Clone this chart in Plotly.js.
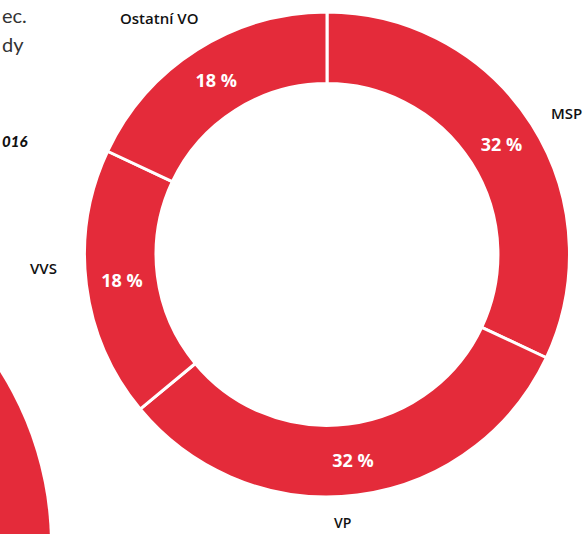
<!DOCTYPE html>
<html>
<head>
<meta charset="utf-8">
<script src="https://cdn.plot.ly/plotly-3.0.1.min.js"></script>
<style>
  html, body { margin: 0; padding: 0; background: #fff; }
  #plot { width: 584px; height: 534px; }
</style>
</head>
<body>
<div id="plot"></div>
<script>
// podíly segmentů (%)
var categories = ["MSP", "VP", "VVS", "Ostatní VO"];
var shares = [32, 32, 18, 18];
var red = "#e42b3a";

var W = 584, H = 534;
function px(x) { return x / W; }
function py(y) { return 1 - y / H; }

var trace = {
  type: "pie",
  labels: categories,
  values: shares,
  sort: false,
  direction: "clockwise",
  rotation: 0,
  hole: 0.705,
  domain: { x: [px(84), px(570)], y: [py(497), py(12)] },
  marker: { colors: categories.map(function() { return red; }), line: { color: "#fff", width: 3 } },
  textinfo: "text",
  texttemplate: "%{value} %",
  textposition: "inside",
  insidetextorientation: "horizontal",
  textfont: { family: "Open Sans", size: 18, color: "#fff", weight: 700 },
  hoverinfo: "label+percent",
  showlegend: false
};

// popisky kategorií kolem prstence
var labelFont = { family: "Open Sans", size: 15, color: "#111", weight: 600 };
var annotations = [
  { text: "Ostatní VO", x: px(159), y: py(18) },
  { text: "MSP", x: px(566), y: py(113) },
  { text: "VVS", x: px(43), y: py(268) },
  { text: "VP", x: px(342), y: py(522), font: { family: "Open Sans", size: 14, color: "#111", weight: 600 } }
].map(function(a) {
  a.xref = "paper"; a.yref = "paper";
  a.showarrow = false; a.font = a.font || labelFont;
  a.xanchor = "center"; a.yanchor = "middle";
  return a;
});

// útržky textu ze sousedního sloupce
var sideFont = { family: "Lato", size: 20, color: "#333" };
annotations.push(
  { text: "ec.", x: 0, y: py(15), xref: "paper", yref: "paper", xanchor: "left", yanchor: "middle", showarrow: false, font: sideFont },
  { text: "dy", x: 0, y: py(44), xref: "paper", yref: "paper", xanchor: "left", yanchor: "middle", showarrow: false, font: sideFont },
  { text: "<i>016</i>", x: 0, y: py(141), xref: "paper", yref: "paper", xanchor: "left", yanchor: "middle", showarrow: false,
    font: { family: "Lato", size: 15, color: "#111", weight: 900 } }
);

var layout = {
  width: W,
  height: H,
  margin: { l: 0, r: 0, t: 0, b: 0 },
  paper_bgcolor: "#fff",
  annotations: annotations,
  shapes: [{
    type: "circle", xref: "paper", yref: "paper",
    x0: px(-274 - 324), x1: px(-274 + 324),
    y0: py(545 + 324), y1: py(545 - 324),
    fillcolor: red, line: { width: 0 }, layer: "below"
  }]
};

Plotly.newPlot("plot", [trace], layout, { displayModeBar: false, staticPlot: true });
</script>
</body>
</html>
